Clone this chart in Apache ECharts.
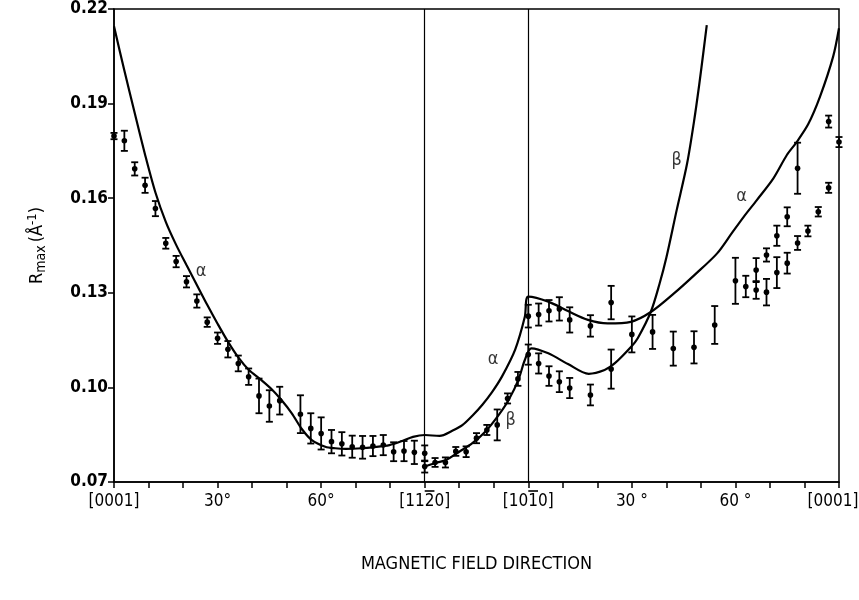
<!DOCTYPE html>
<html>
<head>
<meta charset="utf-8">
<script src="https://cdn.jsdelivr.net/npm/echarts@6/dist/echarts.min.js"></script>
<style>
  html, body { margin: 0; padding: 0; background: #fff; }
  #chart { width: 859px; height: 600px; }
</style>
</head>
<body>
<div id="chart"></div>
<script>
// measured points: [field angle in deg, Rmax, error]
const pointsLeft = [
  [0, 0.1797, 0.0010], [3, 0.1782, 0.0032], [6, 0.1693, 0.0021], [9, 0.1641, 0.0024],
  [12, 0.1567, 0.0024], [15, 0.1457, 0.0017], [18, 0.1399, 0.0018], [21, 0.1335, 0.0018],
  [24, 0.1274, 0.0021], [27, 0.1207, 0.0015], [30, 0.1156, 0.0018], [33, 0.1121, 0.0026],
  [36, 0.1076, 0.0025], [39, 0.1034, 0.0026], [42, 0.0973, 0.0055], [45, 0.0941, 0.0050],
  [48, 0.0958, 0.0044], [54, 0.0915, 0.0060], [57, 0.0870, 0.0048], [60, 0.0854, 0.0051],
  [63, 0.0828, 0.0037], [66, 0.0821, 0.0037], [69, 0.0812, 0.0035], [72, 0.0810, 0.0036],
  [75, 0.0814, 0.0032], [78, 0.0817, 0.0032], [81, 0.0796, 0.0030], [84, 0.0798, 0.0032],
  [87, 0.0794, 0.0037], [90, 0.0791, 0.0025], [90, 0.0749, 0.0019]
];
const pointsMid = [
  [93, 0.0762, 0.0014], [96, 0.0762, 0.0016], [99, 0.0797, 0.0014], [102, 0.0796, 0.0017],
  [105, 0.0839, 0.0016], [108, 0.0865, 0.0016], [111, 0.0881, 0.0049], [114, 0.0965, 0.0016],
  [117, 0.1027, 0.0022]
];
const pointsUpper = [
  [120, 0.1226, 0.0036], [123, 0.1231, 0.0035], [126, 0.1243, 0.0034], [129, 0.1249, 0.0037],
  [132, 0.1214, 0.0040], [138, 0.1195, 0.0034], [144, 0.1269, 0.0053]
];
const pointsLower = [
  [120, 0.1104, 0.0032], [123, 0.1076, 0.0032], [126, 0.1036, 0.0031], [129, 0.1018, 0.0033],
  [132, 0.0998, 0.0032], [138, 0.0976, 0.0033], [144, 0.1058, 0.0062]
];
const pointsRight = [
  [150, 0.1168, 0.0057], [156, 0.1176, 0.0054], [162, 0.1123, 0.0054], [168, 0.1127, 0.0051],
  [174, 0.1198, 0.0060], [180, 0.1338, 0.0073], [183, 0.1320, 0.0034],
  [186, 0.1372, 0.0038], [186, 0.1309, 0.0028], [189, 0.1420, 0.0021], [189, 0.1302, 0.0042],
  [192, 0.1481, 0.0032], [192, 0.1364, 0.0049], [195, 0.1541, 0.0030], [195, 0.1394, 0.0033],
  [198, 0.1695, 0.0081], [198, 0.1458, 0.0022], [201, 0.1496, 0.0017], [204, 0.1557, 0.0015],
  [207, 0.1843, 0.0019], [207, 0.1633, 0.0016], [210, 0.1778, 0.0016]
];

// theory curves
const alphaCurve = [
  [0, 0.2145], [3, 0.2005], [6, 0.1870], [9, 0.1738], [12, 0.1618], [15, 0.1525], [18, 0.1452],
  [21, 0.1388], [24, 0.1325], [27, 0.1262], [30, 0.1202], [33, 0.1145], [36, 0.1095], [39, 0.1056],
  [42.5, 0.1025], [45.6, 0.0995], [48.5, 0.0960], [51.5, 0.0918], [54.4, 0.0868], [57.3, 0.0833],
  [61.2, 0.0812], [64.1, 0.0807], [67.1, 0.0805], [71.9, 0.0807], [74.9, 0.0810], [79.8, 0.0817],
  [83.5, 0.0830], [86.6, 0.0843], [90, 0.0849], [94.3, 0.0846], [98.1, 0.0863], [100.9, 0.0880],
  [103.8, 0.0910], [106.7, 0.0945], [109.5, 0.0985], [112.4, 0.1035], [116.2, 0.1120],
  [119, 0.1224], [120, 0.1288], [125.8, 0.1272], [131.5, 0.1242], [137.3, 0.1214], [143, 0.1203],
  [149.7, 0.1208], [155.5, 0.1239], [162.2, 0.1298], [168.5, 0.1360], [174.7, 0.1425],
  [179, 0.1490], [182.4, 0.1541], [186.2, 0.1594], [191, 0.1663], [194.9, 0.1737],
  [197.8, 0.1779], [201.1, 0.1835], [204.5, 0.1922], [208.3, 0.2049], [210, 0.2139]
];
const betaCurve = [
  [90, 0.0749], [93.3, 0.0761], [96.2, 0.0770], [100, 0.0796], [103.8, 0.0823], [107.6, 0.0860],
  [111.4, 0.0912], [114.3, 0.0960], [117.1, 0.1023], [119, 0.1087], [120.9, 0.1124],
  [125.8, 0.1108], [131.5, 0.1074], [137.5, 0.1043], [142.1, 0.1055], [145, 0.1076],
  [149.8, 0.1129], [151.7, 0.1156], [155.5, 0.1240], [158, 0.1328], [160, 0.1412],
  [163, 0.1563], [166, 0.1710], [168, 0.1843], [169.5, 0.1959], [170.8, 0.2070], [171.7, 0.2149]
];

// tick labels: [before, overlined digit, after]
const xLabelDeg = [0, 30, 60, 90, 120, 150, 180, 210];
const xLabelText = [
  ['[0001]'], ['30°'], ['60°'], ['[11', '2', '0]'], ['[10', '1', '0]'], ['30 °'], ['60 °'], ['[0001]']
];
const yTicks = [0.07, 0.10, 0.13, 0.16, 0.19, 0.22];
const dirLines = [90, 120];

// curve labels
const curveLabels = [
  [25.2, 0.1369, 'α'], [109.8, 0.1090, 'α'], [114.9, 0.0897, 'β'],
  [163, 0.1720, 'β'], [181.8, 0.1605, 'α']
];

const FONT = "'DejaVu Sans Condensed', sans-serif";
const XFS = 17;

let chart = echarts.init(document.getElementById('chart'));

// widths for the overline bars above the Miller-index digits
let ctx = document.createElement('canvas').getContext('2d');
ctx.font = 'normal normal ' + XFS + 'px ' + FONT;
function tw(s) { return ctx.measureText(s).width; }

let xRich = {
  t: { fontFamily: FONT, fontSize: XFS, color: '#000', lineHeight: 20 },
  // last label kept inside the frame edge
  tr: { fontFamily: FONT, fontSize: XFS, color: '#000', lineHeight: 20, padding: [0, 12, 0, 0] },
  e: { width: 1, height: 2, lineHeight: 2 }
};
let xLabelRich = xLabelText.map(function (parts, i) {
  if (parts.length === 1) {
    let st = i === xLabelText.length - 1 ? 'tr' : 't';
    return '{e|}\n{' + st + '|' + parts[0] + '}';
  }
  xRich['p' + i] = { width: tw(parts[0]), height: 2, lineHeight: 2 };
  xRich['b' + i] = { width: tw(parts[1]), height: 1.6, lineHeight: 2, backgroundColor: '#000' };
  xRich['q' + i] = { width: tw(parts[2]), height: 2, lineHeight: 2 };
  return '{p' + i + '|}{b' + i + '|}{q' + i + '|}\n{t|' + parts.join('') + '}';
});

function renderErr(params, api) {
  let x = api.value(0), y = api.value(1), e = api.value(2);
  let top = api.coord([x, y + e]);
  let bot = api.coord([x, y - e]);
  let c = api.coord([x, y]);
  let w = 3.5;
  let st = { stroke: '#000', lineWidth: 1.8 };
  return {
    type: 'group',
    children: [
      { type: 'line', shape: { x1: top[0], y1: top[1], x2: bot[0], y2: bot[1] }, style: st },
      { type: 'line', shape: { x1: top[0] - w, y1: top[1], x2: top[0] + w, y2: top[1] }, style: st },
      { type: 'line', shape: { x1: bot[0] - w, y1: bot[1], x2: bot[0] + w, y2: bot[1] }, style: st },
      { type: 'circle', shape: { cx: c[0], cy: c[1], r: 2.8 }, style: { fill: '#000' } }
    ]
  };
}

function errSeries(data) {
  return {
    type: 'custom',
    renderItem: renderErr,
    data: data,
    clip: false,
    silent: true,
    z: 5
  };
}

let option = {
  animation: false,
  backgroundColor: '#fff',
  grid: {
    left: 114, right: 20, top: 9, bottom: 118,
    outerBoundsMode: 'none',
    containLabel: false,
    show: true, borderColor: '#000', borderWidth: 1.5
  },
  xAxis: {
    type: 'value',
    min: 0, max: 210, interval: 10,
    name: 'MAGNETIC FIELD DIRECTION',
    nameLocation: 'middle',
    nameGap: 73,
    nameTextStyle: { fontFamily: FONT, fontSize: 18, color: '#000' },
    axisLine: { lineStyle: { color: '#000', width: 1.5 } },
    axisTick: { length: 6, lineStyle: { color: '#000', width: 1.5 } },
    axisLabel: {
      margin: 8,
      color: '#000',
      rich: xRich,
      formatter: function (v) {
        let i = xLabelDeg.indexOf(v);
        return i >= 0 ? xLabelRich[i] : '';
      }
    },
    splitLine: { show: false }
  },
  yAxis: {
    type: 'value',
    min: 0.07, max: 0.22,
    name: '{r|R}{sub|max}{r|(Å}{sup|-1}{r|)}',
    nameLocation: 'middle',
    nameGap: 66,
    nameTextStyle: {
      color: '#000',
      rich: {
        r: { fontFamily: FONT, fontSize: 18, color: '#000' },
        sub: { fontFamily: FONT, fontSize: 14, color: '#000', verticalAlign: 'bottom', padding: [8, 3, 0, 0] },
        sup: { fontFamily: FONT, fontSize: 13, color: '#000', verticalAlign: 'top', padding: [0, 0, 8, 0] }
      }
    },
    axisLine: { show: true, lineStyle: { color: '#000', width: 1.5 } },
    axisTick: { show: true, length: 6, customValues: yTicks, lineStyle: { color: '#000', width: 1.5 } },
    axisLabel: {
      customValues: yTicks,
      fontFamily: FONT, fontSize: 17, fontWeight: 'bold', color: '#000', margin: 6,
      formatter: function (v) { return v.toFixed(2); }
    },
    splitLine: { show: false }
  },
  series: [
    {
      type: 'line',
      data: alphaCurve,
      smooth: 0.3,
      showSymbol: false,
      lineStyle: { color: '#000', width: 2.2 },
      silent: true,
      markLine: {
        symbol: 'none',
        silent: true,
        label: { show: false },
        lineStyle: { color: '#000', width: 1.2, type: 'solid' },
        data: dirLines.map(d => ({ xAxis: d }))
      }
    },
    {
      type: 'line',
      data: betaCurve,
      smooth: 0.3,
      showSymbol: false,
      lineStyle: { color: '#000', width: 2.2 },
      silent: true
    },
    errSeries(pointsLeft),
    errSeries(pointsMid),
    errSeries(pointsUpper),
    errSeries(pointsLower),
    errSeries(pointsRight),
    {
      type: 'scatter',
      symbolSize: 0,
      silent: true,
      data: curveLabels.map(l => ({ value: [l[0], l[1]], name: l[2] })),
      label: {
        show: true,
        position: 'inside',
        formatter: '{b}',
        fontFamily: FONT,
        fontSize: 18,
        color: '#000'
      }
    }
  ]
};

chart.setOption(option);
</script>
</body>
</html>
